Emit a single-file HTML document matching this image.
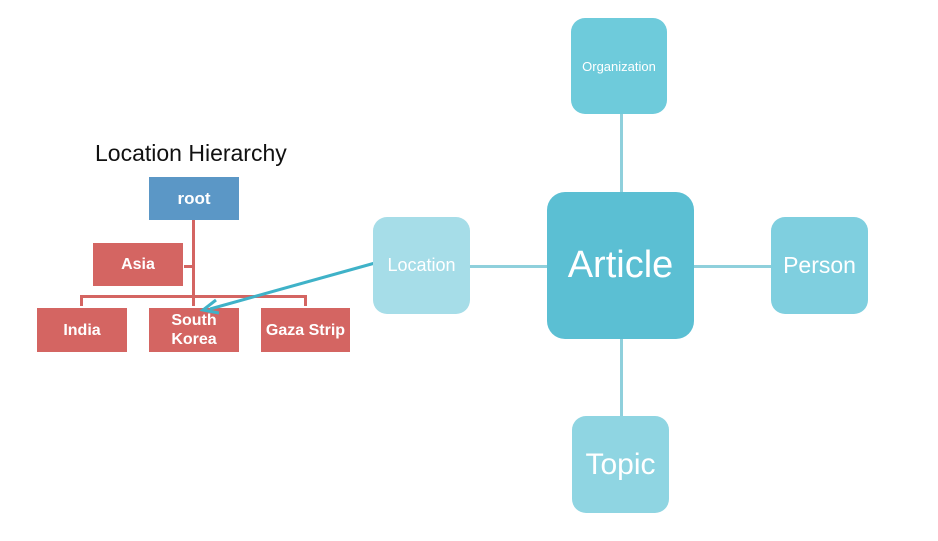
<!DOCTYPE html>
<html><head><style>
body{margin:0;width:938px;height:541px;background:#fff;position:relative;overflow:hidden;font-family:"Liberation Sans",sans-serif}
.b{position:absolute;display:flex;align-items:center;justify-content:center;color:#fff;text-align:center;box-sizing:border-box}
.r{background:#d46562;font-size:16px;font-weight:bold;line-height:19px}
.c{border-radius:14px}
.l{position:absolute;background:#d46562}
.t{position:absolute;background:#8fd0dc}
</style></head><body>
<div style="position:absolute;left:95px;top:140px;font-size:23px;color:#111">Location Hierarchy</div>
<div class="l" style="left:192px;top:220px;width:3px;height:86px"></div>
<div class="l" style="left:184px;top:265px;width:9px;height:3px"></div>
<div class="l" style="left:80px;top:295px;width:227px;height:3px"></div>
<div class="l" style="left:80px;top:295px;width:3px;height:11px"></div>
<div class="l" style="left:304px;top:295px;width:3px;height:11px"></div>
<div class="b" style="left:149px;top:177px;width:90px;height:43px;background:#5b97c6;font-size:17px;font-weight:bold">root</div>
<div class="b r" style="left:93px;top:243px;width:90px;height:43px">Asia</div>
<div class="b r" style="left:37px;top:308px;width:90px;height:44px">India</div>
<div class="b r" style="left:149px;top:308px;width:90px;height:44px">South<br>Korea</div>
<div class="b r" style="left:261px;top:308px;width:89px;height:44px">Gaza Strip</div>
<div class="t" style="left:620px;top:114px;width:3px;height:78px"></div>
<div class="t" style="left:620px;top:339px;width:3px;height:77px"></div>
<div class="t" style="left:470px;top:265px;width:77px;height:3px"></div>
<div class="t" style="left:694px;top:265px;width:77px;height:3px"></div>
<svg style="position:absolute;left:0;top:0" width="938" height="541"><line x1="375" y1="263" x2="210" y2="309" stroke="#3fb2c8" stroke-width="3"/><polyline points="216,300 203,310 219,313" fill="none" stroke="#3fb2c8" stroke-width="3"/></svg>
<div class="b c" style="left:571px;top:18px;width:96px;height:96px;background:#6ecbdb;font-size:13px">Organization</div>
<div class="b c" style="left:547px;top:192px;width:147px;height:147px;background:#5bbfd3;font-size:38px;border-radius:18px">Article</div>
<div class="b c" style="left:373px;top:217px;width:97px;height:97px;background:#a6dde8;font-size:18px">Location</div>
<div class="b c" style="left:771px;top:217px;width:97px;height:97px;background:#7fcfdf;font-size:23px">Person</div>
<div class="b c" style="left:572px;top:416px;width:97px;height:97px;background:#8fd5e2;font-size:30px">Topic</div>
</body></html>
